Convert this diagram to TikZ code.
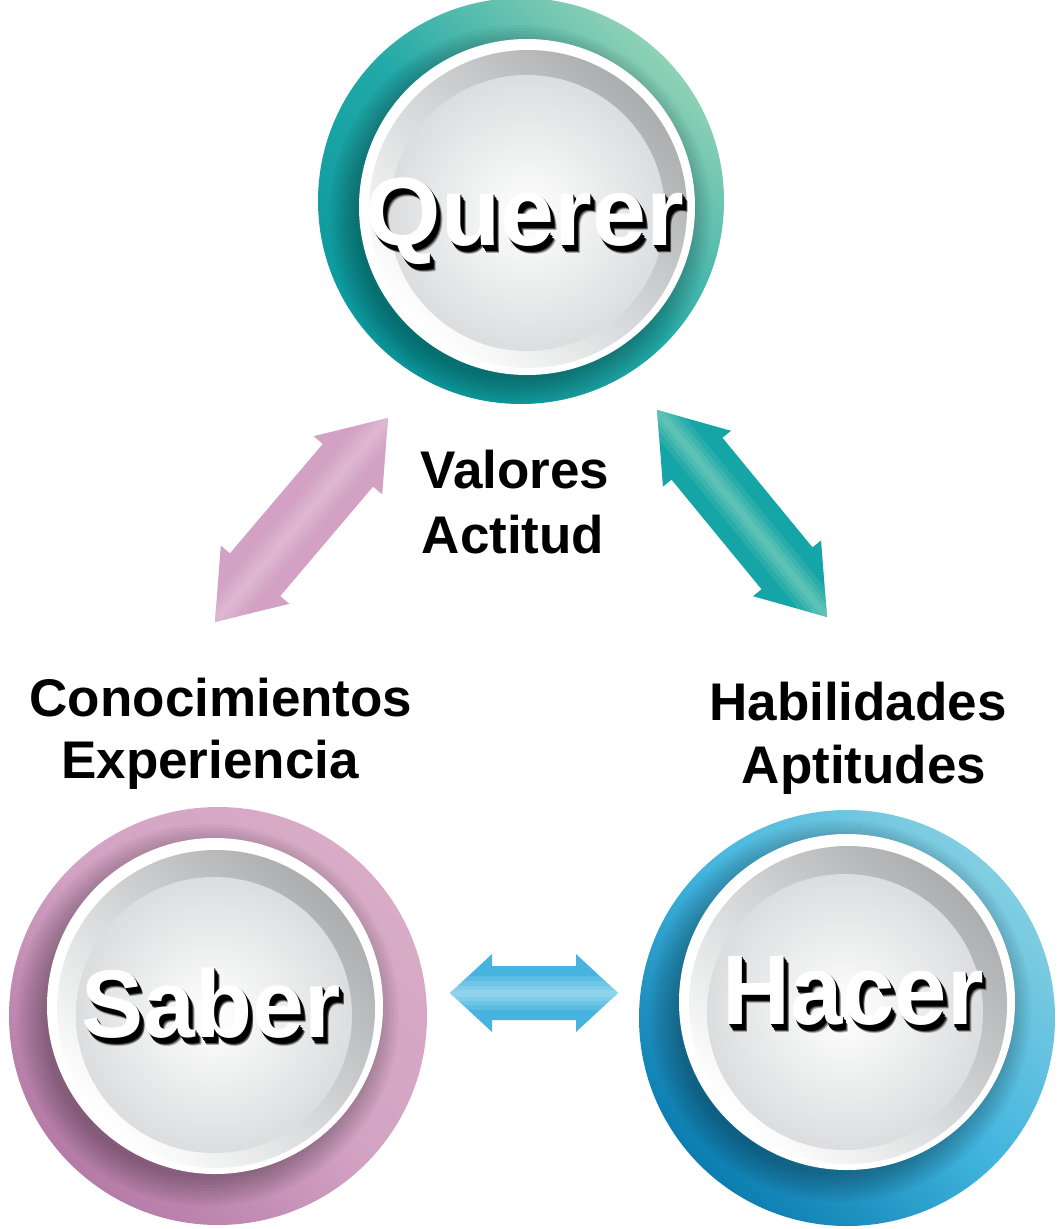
\documentclass[tikz,border=0pt]{standalone}
\usepackage{fontspec}
\setmainfont{Liberation Sans}
\usetikzlibrary{calc}
\definecolor{tealD}{HTML}{0C9A9E}
\definecolor{tealM}{HTML}{22A9A8}
\definecolor{tealL}{HTML}{8FD1B5}
\definecolor{pinkD}{HTML}{B47BA7}
\definecolor{pinkM}{HTML}{D3A2C3}
\definecolor{pinkL}{HTML}{D8ABC7}
\definecolor{blueD}{HTML}{0C7DB0}
\definecolor{blueM}{HTML}{41B4DE}
\definecolor{blueL}{HTML}{82CEE1}
\definecolor{grayR}{HTML}{ABADAF}
\definecolor{grayI}{HTML}{DCDDDE}
\definecolor{arrPink}{HTML}{D2A1C3}
\definecolor{arrPinkS}{HTML}{E3BDD6}
\definecolor{arrTeal}{HTML}{15A5A7}
\definecolor{arrTealS}{HTML}{72CBBA}
\definecolor{arrBlue}{HTML}{46B4DF}
\definecolor{arrBlueS}{HTML}{A6DDF1}
\tikzset{
  bigtxt/.style={inner sep=0pt, anchor=base, text=white, font=\fontsize{#1}{#1}\selectfont\bfseries},
  lbl/.style={inner sep=0pt, anchor=base, text=black, font=\fontsize{53}{53}\selectfont\bfseries},
}
% #1 name, #2 center, #3 R, #4 dark, #5 mid, #6 light, #7 white disk center, #8 gray center, #9 inner center
\newcommand\ringdisk[9]{%
  \coordinate (#1) at #2;
  \shade[left color=#4, right color=#6, middle color=#5, shading angle=135] (#1) circle (#3);
  \begin{scope}
    \clip (#1) circle (#3);
    \foreach \r in {164,167,...,191}{\fill[black,opacity=0.03] ($#7+(-7,9)$) circle (\r);}
  \end{scope}
  \fill[white] #7 circle (168);
  \shade[left color=white, right color=grayR, shading angle=135] #8 circle (159);
  \shade[inner color=white, outer color=grayI] #9 circle (138);
}
% #1 A tip, #2 B tip, #3 shaft half width, #4 head half width, #5 head length
\newcommand\arrowpath[5]{(#1) -- ($(#1-n)!#4!90:(#2)$) -- ($(#1-n)!#3!90:(#2)$)
    -- ($(#2-n)!#3!-90:(#1)$) -- ($(#2-n)!#4!-90:(#1)$) -- (#2)
    -- ($(#2-n)!#4!90:(#1)$) -- ($(#2-n)!#3!90:(#1)$)
    -- ($(#1-n)!#3!-90:(#2)$) -- ($(#1-n)!#4!-90:(#2)$) -- cycle}
% #6 base colour, #7 stripe colour
\newcommand\fatarrow[7]{%
  \coordinate (#1-n) at ($(#1)!#5!(#2)$);
  \coordinate (#2-n) at ($(#2)!#5!(#1)$);
  \fill[#6] \arrowpath{#1}{#2}{#3}{#4}{#5};
  \begin{scope}
    \clip \arrowpath{#1}{#2}{#3}{#4}{#5};
    \foreach \w/\o in {34/0.22,24/0.28,15/0.32,7/0.4}{
      \draw[#7, line width=\w pt, opacity=\o] (#1) -- (#2);}
  \end{scope}
}
\newcommand\shadowlayer[4]{\makebox[0pt][l]{\kern#1pt\raisebox{-#2pt}{\color{#3}#4}}}
\newcommand\shadowword[6]{% #1 name, #2 x, #3 y, #4 size, #5 xscale, #6 text
  \node[bigtxt=#4, xscale=#5] (#1) at (#2,#3)
    {\shadowlayer{5.5}{8}{black!35}{#6}\shadowlayer{5}{7}{black!70}{#6}%
     \shadowlayer{4}{6}{black}{#6}\shadowlayer{3}{4.5}{black}{#6}%
     \shadowlayer{2}{3}{black}{#6}\shadowlayer{1}{1.5}{black}{#6}#6};
}
\begin{document}
\begin{tikzpicture}[x=1pt,y=-1pt]
\useasboundingbox (0,0) rectangle (1061,1229);
\fill[white] (0,0) rectangle (1061,1229);

% circles
\ringdisk{querer}{(521,201)}{203}{tealD}{tealM}{tealL}{(527,207)}{(528,209)}{(527,213)}
\ringdisk{saber}{(218,1016)}{209}{pinkD}{pinkM}{pinkL}{(215,1006)}{(216,1009)}{(214,1015)}
\ringdisk{hacer}{(847,1018)}{208}{blueD}{blueM}{blueL}{(847,1002)}{(848,1005)}{(845,1012)}

% big words
\shadowword{tq}{525}{245}{97}{1}{Querer}
\shadowword{ts}{211}{1037}{96}{0.97}{Saber}
\shadowword{th}{853}{1024}{99}{0.95}{Hacer}

% arrows
\coordinate (pa) at (388,418);
\coordinate (pb) at (215,622);
\coordinate (ta) at (657,410);
\coordinate (tb) at (827,617);
\coordinate (ba) at (450,993);
\coordinate (bb) at (618,993);
\fatarrow{pa}{pb}{33pt}{45pt}{62pt}{arrPink}{arrPinkS}
\fatarrow{ta}{tb}{33pt}{44pt}{63pt}{arrTeal}{arrTealS}
\fatarrow{ba}{bb}{27pt}{39pt}{42pt}{arrBlue}{arrBlueS}

% labels
\node[lbl] (l1) at (515,488) {Valores};
\node[lbl] (l2) at (513,553) {Actitud};
\node[lbl] (l3) at (221,716) {Conocimientos};
\node[lbl] (l4) at (210,778) {Experiencia};
\node[lbl] (l5) at (858,720) {Habilidades};
\node[lbl] (l6) at (864,783) {Aptitudes};
\end{tikzpicture}
\end{document}
